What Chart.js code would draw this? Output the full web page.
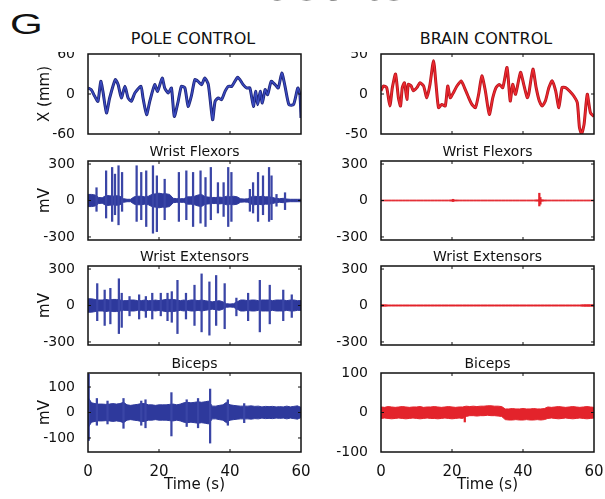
<!DOCTYPE html>
<html>
<head>
<meta charset="utf-8">
<script src="https://cdn.jsdelivr.net/npm/chart.js@4.4.1/dist/chart.umd.min.js"></script>
<style>
  html, body { margin: 0; padding: 0; background: #fff; overflow: hidden; width: 605px; height: 499px; }
  #wrap { position: relative; width: 605px; height: 499px; }
  canvas { position: absolute; }
  .txt { position: absolute; white-space: nowrap; color: #111; }
</style>
</head>
<body>
<div id="wrap">
  <div class="txt" style="left:221px;top:-47px;font:56px/1 'Liberation Sans',Arial,sans-serif;color:#222">Results</div>
  <div class="txt" style="left:10px;top:10px;font:29px/1 'Liberation Sans',Arial,sans-serif;transform:scaleX(1.45);transform-origin:0 0">G</div>
  <div class="txt" style="left:93px;width:200px;text-align:center;top:31px;font:16px/1 'DejaVu Sans',sans-serif">POLE CONTROL</div>
  <div class="txt" style="left:386px;width:200px;text-align:center;top:31px;font:16px/1 'DejaVu Sans',sans-serif">BRAIN CONTROL</div>
</div>
<script>
// ---- data ----
const timeTicks = [0, 20, 40, 60];
const seconds = [0,1,2,3,4,5,6,7,8,9,10,11,12,13,14,15,16,17,18,19,20,21,22,23,24,25,26,27,28,29,
  30,31,32,33,34,35,36,37,38,39,40,41,42,43,44,45,46,47,48,49,50,51,52,53,54,55,56,57,58,59,60];

// hand position X (mm)
const poleTime = [0,0.9,1.9,2.8,3.6,4.2,5.2,6.1,7.7,8.5,9.4,10.4,11.3,12.2,13.2,14.9,15.5,16.5,17.4,18.8,
  19.6,20.9,21.6,22.6,23.5,24.3,25.4,26.3,27.3,28.2,29.2,30.1,31.0,32.0,32.9,33.9,35.1,35.8,36.7,37.6,
  38.6,39.5,40.5,42.1,42.8,43.7,44.7,45.6,46.6,47.2,47.8,48.5,49.1,49.9,50.6,51.6,52.7,53.6,54.6,55.5,
  56.6,57.9,59.1,59.7,60];
const poleX = [9,6.5,-3.5,-11,19,4,-28.5,-6,21.5,14,-6,11.5,-6,-11,1.5,11.5,-6,-31,-11,14,
  4,24,9,1.5,9,-33.5,-11,11.5,9,-18.5,-1,21.5,19,14,24,14,-38.5,-11,-6,-8.5,
  4,11.5,11.5,25,21.5,14,9,9,-18.5,4,-16,4,-13.5,6.5,-1,19,14,9,31.5,11.5,
  -16,-16,9,-1,-36];
const brainTime = [0,0.7,1.6,2.5,3.2,4.1,4.9,5.5,6.0,6.6,7.3,7.7,8.5,9.1,10.1,11.0,12.0,12.9,13.8,14.8,
  15.5,16.2,17.1,18.1,18.8,19.5,20.4,21.4,22.6,23.5,24.5,25.6,26.6,27.5,28.4,29.4,30.5,31.5,32.4,33.3,
  34.3,35.5,36.4,37.1,37.9,39.3,40.2,41.2,41.6,42.8,43.7,44.6,45.4,46.3,47.3,48.2,49.2,50.1,51.0,52.0,
  53.1,54.3,55.3,55.9,56.5,57.2,58.1,59.0,60];
const brainX = [4,10,8,-15,8,25,-4.6,-15,8,14,-6.7,12,10,4,8,14,10,-4.6,12,41.6,
  12,-17,-13,-15,10,-4.6,1.7,10,16.4,8,-2.5,-13,-17,-0.4,22.7,3.8,-25.6,-4.6,8,12,
  8,33,-8.8,12,-0.4,27,12,-4.6,-0.4,31,8,-8.8,-15,-8.8,8,16.4,3.8,-17,8,8,
  3.8,-2.5,-11,-42,-50,-38,-0.4,-23.5,-28];

// EMG envelopes (mV, amplitude per second) and isolated bursts
const flexPoleAmp = [50,50,45,25,22,40,40,35,40,35, 15,10,10,30,35,35,30,35,50,55,
  60,55,55,50,18,15,15,15,30,30, 35,45,50,30,28,25,25,28,25,35,
  30,35,30,14,12,14,30,35,30,35, 30,30,25,17,15,18,12,10,10,10,10];
const flexPoleSpikeT  = [2.4,5.1,6.8,7.6,8.6,9.6,13.7,15.0,16.4,18.3,19.4,21.6,25.6,27.7,29.6,31.7,33.1,34.6,36.6,38.2,39.5,40.4,45.6,46.5,47.9,49.3,51.0,51.7,53.1,55.5];
const flexPoleSpikeHi = [105,244,272,217,286,231,286,231,244,286,203,175,231,244,231,244,189,272,147,147,272,231,92,147,231,203,272,203,50,64];
const flexPoleSpikeLo = [-89,-144,-172,-117,-200,-89,-172,-158,-214,-269,-256,-158,-172,-158,-214,-186,-214,-158,-103,-131,-214,-172,-89,-103,-172,-117,-172,-158,-47,-75];

const extPoleAmp = [55,55,50,45,45,50,45,50,50,45, 40,40,45,45,40,40,45,40,40,45,
  40,45,50,50,50,45,40,45,40,45, 45,40,45,40,35,30,35,40,30,15,
  12,15,30,45,45,40,45,45,40,45, 45,45,40,45,45,45,40,45,45,40,40];
const extPoleSpikeT  = [2.6,4.7,6.3,8.7,9.5,11.7,14.4,16.3,18.1,20.5,22.4,23.6,25.2,27.6,30.0,32.0,34.2,36.1,38.5,41.8,45.1,48.4,51.2,55.0,57.4];
const extPoleSpikeHi = [180,127,141,220,101,74,88,74,101,101,101,114,207,101,167,260,194,247,180,61,101,207,167,127,88];
const extPoleSpikeLo = [-125,-164,-151,-231,-180,-85,-111,-98,-111,-85,-125,-138,-231,-111,-164,-217,-244,-164,-191,-85,-125,-217,-151,-125,-98];

const bicPoleAmp = [60,38,35,33,33,32,33,35,33,35, 40,30,28,30,32,35,35,30,30,28,
  30,30,30,32,33,30,33,38,40,38, 40,42,40,42,45,25,25,28,30,40,
  30,28,26,25,25,25,26,24,25,22, 24,23,24,22,23,22,25,22,24,26,20];
const bicPoleSpikeT  = [0.2,2.5,5.5,10.0,15.0,16.2,23.5,27.8,31.0,34.4,39.4,44.0];
const bicPoleSpikeHi = [150,55,45,55,45,50,78,50,55,92,50,35];
const bicPoleSpikeLo = [-110,-50,-45,-62,-50,-60,-92,-55,-60,-120,-50,-40];

const flexBrainAmp = [3,3,3,3,3,3,3,3,3,3, 3,3,3,3,3,3,3,3,3,3,
  5,4,3,3,3,3,3,3,3,3, 3,3,3,3,3,3,3,3,3,3,
  3,3,3,3,5,6,4,3,3,3, 3,3,3,3,3,3,3,3,3,3,3];
const flexBrainSpikeT  = [20.3,44.6,44.9];
const flexBrainSpikeHi = [10,60,25];
const flexBrainSpikeLo = [-8,-45,-30];

const extBrainAmp = [6,6,4,4,4,4,4,4,4,4, 4,4,4,4,4,4,4,4,4,4,
  4,4,4,4,4,4,4,4,4,4, 4,4,4,4,4,4,4,4,4,4,
  4,4,4,4,4,4,4,4,4,4, 4,4,4,4,4,4,4,6,6,6,6];

const bicBrainHi = [14,13,15,14,13,14,15,14,13,14, 14,15,13,14,14,15,14,13,14,15,
  14,13,14,14,16,15,16,15,16,16, 17,17,16,16,15,9,9,10,9,9,
  10,9,9,10,9,9,10,14,13,14, 15,14,13,14,15,14,13,14,15,14,13];
const bicBrainLo = [-15,-14,-15,-16,-15,-14,-15,-16,-15,-14, -15,-16,-15,-14,-15,-15,-16,-15,-14,-15,
  -16,-15,-14,-15,-10,-8,-8,-9,-8,-8, -7,-8,-8,-9,-10,-18,-19,-19,-18,-19,
  -19,-18,-19,-19,-18,-19,-18,-15,-14,-15, -16,-15,-14,-15,-16,-15,-14,-15,-16,-15,-14];
const bicBrainSpikeT  = [23.6];
const bicBrainSpikeHi = [6];
const bicBrainSpikeLo = [-24];

// ---- drawing ----
const FONT = "'DejaVu Sans', sans-serif";
Chart.defaults.font.family = FONT;
Chart.defaults.color = '#111';

const BLUE_DARK = '#1d2476', BLUE = '#3a4ac0', BLUE_BAND = '#2e399c', BLUE_SPIKE = '#3a45a6';
const RED_DARK = '#b3141d', RED = '#ee2a30', RED_BAND = '#e3232b', RED_SPIKE = '#e3232b';

const PL = 58, PR = 11, BOX_W = 213, TITLE_H = 17, XAXIS_H = 44;
const rows = [{ top: 54, h: 80 }, { top: 161, h: 79 }, { top: 266, h: 79 }, { top: 373, h: 79 }];
const colLeft = [88, 381];

const pts = (xs, ys) => xs.map((t, i) => ({ x: t, y: ys[i] }));

function traceSets(times, vals, dark, light) {
  return [
    { data: pts(times, vals), borderColor: light, borderWidth: 1.4, pointRadius: 0, tension: 0.2, order: 1 },
    { data: pts(times, vals), borderColor: dark, borderWidth: 3, pointRadius: 0, tension: 0.2, order: 2 }
  ];
}

function emgSets(hi, lo, sT, sHi, sLo, band, spike) {
  return [
    { data: pts(seconds, hi), borderColor: band, backgroundColor: band, borderWidth: 1, pointRadius: 0, fill: false, order: 2 },
    { data: pts(seconds, lo), borderColor: band, backgroundColor: band, borderWidth: 1, pointRadius: 0, fill: '-1', order: 2 },
    { type: 'bar', data: sT.map((t, i) => ({ x: t, y: [sLo[i], sHi[i]] })), backgroundColor: spike, barThickness: 1.6, borderWidth: 0, order: 1 }
  ];
}

const framePlugin = {
  id: 'frame',
  afterDatasetsDraw(chart) {
    const { ctx, chartArea: a, scales: { x, y } } = chart;
    ctx.save();
    ctx.strokeStyle = '#111';
    ctx.lineWidth = 1.5;
    ctx.strokeRect(a.left, a.top, a.right - a.left, a.bottom - a.top);
    ctx.lineWidth = 1;
    ctx.beginPath();
    timeTicks.forEach(t => {
      if (t <= x.min || t >= x.max) return;
      const px = x.getPixelForValue(t);
      ctx.moveTo(px, a.top); ctx.lineTo(px, a.top + 3);
      ctx.moveTo(px, a.bottom); ctx.lineTo(px, a.bottom - 3);
    });
    y.ticks.forEach(tk => {
      const py = y.getPixelForValue(tk.value);
      if (py < a.top + 2 || py > a.bottom - 2) return;
      ctx.moveTo(a.left, py); ctx.lineTo(a.left + 3, py);
      ctx.moveTo(a.right, py); ctx.lineTo(a.right - 3, py);
    });
    ctx.stroke();
    ctx.restore();
  }
};

function panel(col, row, range, yTicks, yTitle, title, datasets) {
  const r = rows[row];
  const showX = row === 3;
  const top = title ? TITLE_H : 2;
  const bottom = showX ? XAXIS_H : (row === 0 ? 10 : 2);
  const w = PL + BOX_W + PR, h = top + r.h + bottom;
  const cv = document.createElement('canvas');
  cv.width = w; cv.height = h;
  cv.style.left = (colLeft[col] - PL) + 'px';
  cv.style.top = (r.top - top) + 'px';
  cv.style.width = w + 'px'; cv.style.height = h + 'px';
  document.getElementById('wrap').appendChild(cv);

  new Chart(cv.getContext('2d'), {
    type: 'line',
    data: { datasets },
    options: {
      responsive: false, animation: false, devicePixelRatio: 1, events: [],
      layout: { padding: { left: 0, right: PR, top: title ? 0 : 2, bottom: showX ? 0 : bottom } },
      plugins: {
        legend: { display: false }, tooltip: { enabled: false },
        title: {
          display: !!title, text: title, fullSize: false, color: '#111',
          font: { family: FONT, size: 14, weight: 'normal', lineHeight: TITLE_H + 'px' },
          padding: { top: 0, bottom: 0 }
        }
      },
      scales: {
        x: {
          type: 'linear', min: 0, max: 60, offset: false, display: showX,
          grid: { display: false }, border: { display: false },
          ticks: { stepSize: 20, font: { size: 15 }, padding: 3, maxRotation: 0 },
          afterBuildTicks: s => { s.ticks = timeTicks.map(v => ({ value: v })); },
          title: { display: true, text: 'Time (s)', font: { size: 15 }, padding: { top: 0, bottom: 2 } },
          afterFit: s => {
            if (!showX) return;
            s.height = XAXIS_H; s.paddingLeft = 0; s.paddingRight = 0;
          }
        },
        y: {
          min: -range, max: range,
          grid: { display: false }, border: { display: false },
          ticks: { font: { size: 14 }, padding: 5, autoSkip: false },
          afterBuildTicks: s => { s.ticks = yTicks.map(v => ({ value: v })); },
          title: { display: !!yTitle, text: yTitle, font: { size: 15 }, padding: { top: 6, bottom: 0 } },
          afterFit: s => { s.width = PL; s.paddingTop = 0; s.paddingBottom = 0; }
        }
      }
    },
    plugins: [framePlugin]
  });
}

const neg = a => a.map(v => -v);

panel(0, 0, 60, [-60, 0, 60], 'X (mm)', '', traceSets(poleTime, poleX, BLUE_DARK, BLUE));
panel(1, 0, 50, [-50, 0, 50], '', '', traceSets(brainTime, brainX, RED_DARK, RED));

panel(0, 1, 325, [-300, 0, 300], 'mV', 'Wrist Flexors',
  emgSets(flexPoleAmp, neg(flexPoleAmp), flexPoleSpikeT, flexPoleSpikeHi, flexPoleSpikeLo, BLUE_BAND, BLUE_SPIKE));
panel(1, 1, 325, [-300, 0, 300], '', 'Wrist Flexors',
  emgSets(flexBrainAmp, neg(flexBrainAmp), flexBrainSpikeT, flexBrainSpikeHi, flexBrainSpikeLo, RED_BAND, RED_SPIKE));

panel(0, 2, 325, [-300, 0, 300], 'mV', 'Wrist Extensors',
  emgSets(extPoleAmp, neg(extPoleAmp), extPoleSpikeT, extPoleSpikeHi, extPoleSpikeLo, BLUE_BAND, BLUE_SPIKE));
panel(1, 2, 325, [-300, 0, 300], '', 'Wrist Extensors',
  emgSets(extBrainAmp, neg(extBrainAmp), [], [], [], RED_BAND, RED_SPIKE));

panel(0, 3, 155, [-100, 0, 100], 'mV', 'Biceps',
  emgSets(bicPoleAmp, neg(bicPoleAmp), bicPoleSpikeT, bicPoleSpikeHi, bicPoleSpikeLo, BLUE_BAND, BLUE_SPIKE));
panel(1, 3, 100, [-100, 0, 100], '', 'Biceps',
  emgSets(bicBrainHi, bicBrainLo, bicBrainSpikeT, bicBrainSpikeHi, bicBrainSpikeLo, RED_BAND, RED_SPIKE));
</script>
</body>
</html>
